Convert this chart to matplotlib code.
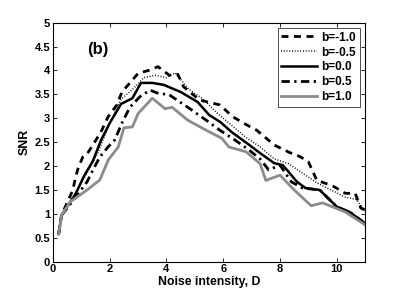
import matplotlib
matplotlib.use("Agg")
import matplotlib.pyplot as plt

plt.rcParams['font.family'] = ['Liberation Sans', 'DejaVu Sans']
plt.rcParams['font.weight'] = 'bold'

# b = -1.0 (dashed)
d_m10 = [0.2, 0.3, 0.7, 0.8, 0.9, 1.05, 1.2, 1.55, 1.72, 1.94, 2.25, 2.43, 2.71, 3.0, 3.42, 3.7,
         4.1, 4.4, 4.6, 5.17, 5.88, 6.34, 6.83, 7.18, 7.46, 7.8, 8.35, 8.7, 9.0, 9.3, 9.6, 9.9,
         10.3, 10.65, 10.85, 11.0]
s_m10 = [0.58, 0.97, 1.5, 1.78, 1.98, 2.19, 2.25, 2.58, 2.75, 3.03, 3.28, 3.55, 3.74, 3.94, 4.01, 4.08,
         3.9, 3.92, 3.66, 3.38, 3.28, 3.03, 2.86, 2.75, 2.61, 2.44, 2.28, 2.2, 2.09, 1.7, 1.64, 1.57,
         1.43, 1.43, 1.12, 1.08]

# b = -0.5 (dotted)
d_m05 = [0.2, 0.3, 0.8, 1.2, 1.6, 2.0, 2.4, 2.8, 3.2, 3.6, 4.0, 4.3, 4.8, 5.3, 5.8, 6.3, 6.8,
         7.3, 7.8, 8.3, 8.8, 9.3, 9.8, 10.3, 10.7, 11.0]
s_m05 = [0.58, 0.97, 1.45, 1.85, 2.3, 2.9, 3.4, 3.6, 3.85, 3.9, 3.85, 3.95, 3.6, 3.4, 3.1, 2.85, 2.6,
         2.4, 2.15, 2.05, 1.85, 1.65, 1.5, 1.35, 1.3, 1.05]

# b = 0.0 (solid)
d_00 = [0.2, 0.3, 0.8, 1.1, 1.4, 1.7, 2.0, 2.4, 2.8, 3.1, 3.5, 3.9, 4.5, 5.1, 5.5, 5.9, 6.3, 6.9,
        7.3, 7.8, 8.1, 8.6, 8.9, 9.4, 10.0, 10.45, 11.0]
s_00 = [0.58, 0.97, 1.42, 1.8, 2.1, 2.55, 2.9, 3.3, 3.42, 3.74, 3.74, 3.7, 3.55, 3.34, 3.07, 2.92,
        2.71, 2.45, 2.27, 2.06, 2.02, 1.67, 1.54, 1.5, 1.15, 1.04, 0.8]

# b = 0.5 (dash-dot)
d_05 = [0.2, 0.3, 0.8, 1.2, 1.41, 1.65, 1.94, 2.18, 2.43, 2.71, 3.06, 3.42, 3.66, 4.1, 4.8, 5.4,
        5.88, 6.4, 6.9, 7.3, 7.6, 8.0, 8.4, 8.8, 9.4, 10.0, 10.5, 11.0]
s_05 = [0.58, 0.97, 1.35, 1.67, 1.92, 2.19, 2.4, 2.55, 2.9, 3.23, 3.45, 3.59, 3.53, 3.49, 3.21, 2.96,
        2.75, 2.55, 2.34, 2.15, 1.92, 2.02, 1.67, 1.54, 1.5, 1.15, 1.02, 0.8]

# b = 1.0 (gray)
d_10 = [0.2, 0.3, 0.6, 1.2, 1.65, 1.95, 2.3, 2.5, 2.8, 3.0, 3.5, 3.95, 4.2, 4.75, 5.4, 5.95, 6.2,
        6.8, 7.3, 7.5, 8.0, 8.5, 9.1, 9.5, 10.3, 11.0]
s_10 = [0.58, 0.97, 1.25, 1.5, 1.71, 2.13, 2.4, 2.8, 2.82, 3.1, 3.42, 3.2, 3.23, 2.96, 2.75, 2.58, 2.4,
        2.3, 2.05, 1.7, 1.81, 1.5, 1.17, 1.23, 1.04, 0.77]

labels = ['b=-1.0', 'b=-0.5', 'b=0.0', 'b=0.5', 'b=1.0']
x_ticks = [0, 2, 4, 6, 8, 10]
y_ticks = [0, 0.5, 1, 1.5, 2, 2.5, 3, 3.5, 4, 4.5, 5]
y_ticklabels = ['0', '0.5', '1', '1.5', '2', '2.5', '3', '3.5', '4', '4.5', '5']

fig = plt.figure(figsize=(4.03, 2.94), dpi=100)
ax = fig.add_axes([0.1315, 0.11, 0.7745, 0.8128])

ax.plot(d_m10, s_m10, color='black', lw=2.0, ls=(0, (2.5, 2.0)), label=labels[0])
ax.plot(d_m05, s_m05, color='black', lw=1.1, ls=(0, (0.6, 1.2)), label=labels[1])
ax.plot(d_00, s_00, color='black', lw=1.8, ls='-', label=labels[2])
ax.plot(d_05, s_05, color='black', lw=2.0, ls=(0, (3.0, 1.6, 0.8, 1.6)), label=labels[3])
ax.plot(d_10, s_10, color='#8c8c8c', lw=2.0, ls='-', label=labels[4])

ax.set_xlim(0, 11)
ax.set_ylim(0, 5)
ax.set_xticks(x_ticks)
ax.set_xticklabels([str(v) for v in x_ticks], fontweight='bold', fontsize=8)
ax.set_yticks(y_ticks)
ax.set_yticklabels(y_ticklabels, fontweight='bold', fontsize=8)
ax.tick_params(direction='in', top=True, right=True, length=3, width=0.6, pad=2)
for s in ax.spines.values():
    s.set_linewidth(0.8)

ax.set_xlabel('Noise intensity, D', fontsize=8.8, fontweight='bold', labelpad=1)
ax.set_ylabel('SNR', fontsize=8.8, fontweight='bold', labelpad=3)
ax.text(1.2, 4.35, '(b)', fontsize=12, fontweight='bold')

leg = ax.legend(loc='upper right', fontsize=8.5, frameon=True, fancybox=False,
                edgecolor='black', borderpad=0.3, labelspacing=0.25, handlelength=3.0,
                handletextpad=0.4, borderaxespad=0.45)
leg.get_frame().set_linewidth(0.6)
for t in leg.get_texts():
    t.set_fontweight('bold')

fig.savefig('out.png', dpi=100)
